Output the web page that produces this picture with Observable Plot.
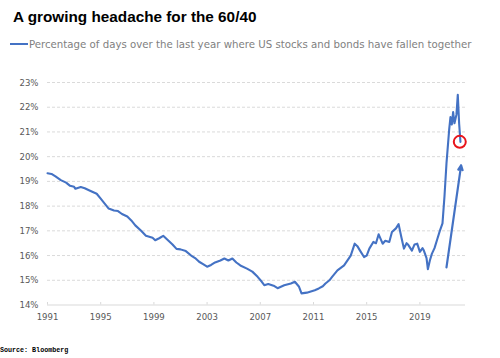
<!DOCTYPE html>
<html>
<head>
<meta charset="utf-8">
<script src="https://cdn.jsdelivr.net/npm/d3@7"></script>
<script src="https://cdn.jsdelivr.net/npm/@observablehq/plot@0.6"></script>
<style>
  html, body { margin: 0; padding: 0; background: #fff; }
  #wrap { position: relative; width: 500px; height: 358px; overflow: hidden; }
  #title { position: absolute; left: 13px; top: 8px; font: bold 15.3px "Liberation Sans", Arial, sans-serif; color: #000; white-space: nowrap; }
  #legend { position: absolute; left: 10px; top: 36px; height: 16px; display: flex; align-items: center; white-space: nowrap; }
  #legend .sw { width: 18px; height: 2px; background: #4472c4; margin-right: 1px; }
  #legend .tx { font: 11.35px "DejaVu Sans Condensed", "DejaVu Sans", sans-serif; color: #7f7f7f; }
  #chart { position: absolute; left: 0; top: 60px; }
  #source { position: absolute; left: 0; top: 346px; font: bold 6.7px "Liberation Mono", monospace; color: #000; white-space: nowrap; }
</style>
</head>
<body>
<div id="wrap">
  <div id="title">A growing headache for the 60/40</div>
  <div id="legend"><div class="sw"></div><div class="tx">Percentage of days over the last year where US stocks and bonds have fallen together</div></div>
  <div id="chart"></div>
  <div id="source">Source: Bloomberg</div>
</div>
<script>
const years = [
  1991.0, 1991.3, 1991.6, 1992.0, 1992.4, 1992.7, 1993.0, 1993.1, 1993.5, 1993.8,
  1994.2, 1994.7, 1995.0, 1995.3, 1995.6, 1996.0, 1996.3, 1996.6, 1997.0, 1997.3,
  1997.6, 1998.0, 1998.4, 1998.9, 1999.1, 1999.4, 1999.7, 2000.1, 2000.4, 2000.7,
  2001.0, 2001.4, 2001.8, 2002.1, 2002.4, 2002.7, 2003.0, 2003.3, 2003.6, 2004.0,
  2004.3, 2004.6, 2004.9, 2005.2, 2005.5, 2006.0, 2006.4, 2006.8, 2007.1, 2007.3,
  2007.6, 2008.0, 2008.3, 2008.8, 2009.3, 2009.6, 2009.9, 2010.1, 2010.5, 2010.8,
  2011.1, 2011.4, 2011.7, 2011.9, 2012.2, 2012.4, 2012.8, 2013.3, 2013.8, 2014.1,
  2014.3, 2014.5, 2014.8, 2015.0, 2015.2, 2015.5, 2015.7, 2015.9, 2016.2, 2016.4,
  2016.7, 2016.9, 2017.2, 2017.4, 2017.6, 2017.8, 2018.0, 2018.1, 2018.4, 2018.6,
  2018.8, 2019.0, 2019.2, 2019.3, 2019.5, 2019.6, 2019.75, 2019.9, 2020.1, 2020.3,
  2020.5, 2020.7, 2020.85, 2021.0, 2021.2, 2021.3, 2021.4, 2021.5, 2021.6, 2021.75,
  2021.85, 2021.95, 2022.05
];
const values = [
  19.33, 19.30, 19.20, 19.05, 18.95, 18.82, 18.78, 18.70, 18.77, 18.72,
  18.62, 18.50, 18.30, 18.10, 17.90, 17.82, 17.80, 17.68, 17.58, 17.42,
  17.22, 17.02, 16.80, 16.72, 16.62, 16.70, 16.80, 16.60, 16.45, 16.27,
  16.25, 16.18, 16.00, 15.90, 15.75, 15.65, 15.55, 15.62, 15.72, 15.80,
  15.88, 15.80, 15.88, 15.72, 15.60, 15.47, 15.35, 15.14, 14.95, 14.80,
  14.85, 14.78, 14.68, 14.80, 14.87, 14.94, 14.75, 14.47, 14.50, 14.55,
  14.60, 14.67, 14.76, 14.87, 15.00, 15.14, 15.40, 15.60, 16.00, 16.48,
  16.38, 16.20, 15.94, 16.00, 16.28, 16.55, 16.50, 16.86, 16.48, 16.60,
  16.55, 16.95, 17.10, 17.27, 16.76, 16.28, 16.50, 16.45, 16.20, 16.45,
  16.48, 16.15, 16.30, 16.20, 15.90, 15.45, 15.80, 16.07, 16.30, 16.65,
  17.00, 17.30, 18.40, 19.73, 21.08, 21.60, 21.30, 21.80, 21.35, 21.70,
  22.50, 21.35, 20.60
];
const xTicks = [1991, 1995, 1999, 2003, 2007, 2011, 2015, 2019];
const yTicks = [14, 15, 16, 17, 18, 19, 20, 21, 22, 23];
const circleAt = [{year: 2022.0, value: 20.6}];
const arrowAt = [{x1: 2021.0, y1: 15.52, x2: 2022.1, y2: 19.65}];

const series = years.map((y, i) => ({year: y, value: values[i]}));
const blue = "#4472c4";

const chart = Plot.plot({
  width: 500,
  height: 270,
  marginLeft: 47,
  marginRight: 35,
  marginTop: 22,
  marginBottom: 25.5,
  style: {fontFamily: "'DejaVu Sans Condensed', 'DejaVu Sans', sans-serif", fontSize: "9.5px", color: "#595959", background: "#fff"},
  x: {domain: [1991, 2022.43]},
  y: {domain: [14, 23]},
  marks: [
    Plot.ruleY(yTicks.filter(d => d > 14), {stroke: "#dadada", strokeWidth: 1, strokeDasharray: "3,2"}),
    Plot.ruleY([14], {stroke: "#d9d9d9", strokeWidth: 1}),
    Plot.ruleX(xTicks, {x: d => d, y1: 14, y2: 14.1, stroke: "#d9d9d9"}),
    Plot.axisX({ticks: xTicks, tickFormat: d => String(d), tickSize: 0, tickPadding: 8, label: null}),
    Plot.axisY({ticks: yTicks, tickFormat: d => d + "%", tickSize: 0, tickPadding: 9, label: null}),
    Plot.line(series, {x: "year", y: "value", stroke: blue, strokeWidth: 2.1, strokeLinejoin: "round"}),
    Plot.arrow(arrowAt, {x1: "x1", y1: "y1", x2: "x2", y2: "y2", stroke: blue, strokeWidth: 2.2, headLength: 3.5, headAngle: 50}),
    Plot.dot(circleAt, {x: "year", y: "value", r: 6, stroke: "#e8141b", strokeWidth: 2, fill: "none"})
  ]
});
document.getElementById("chart").appendChild(chart);
</script>
</body>
</html>
